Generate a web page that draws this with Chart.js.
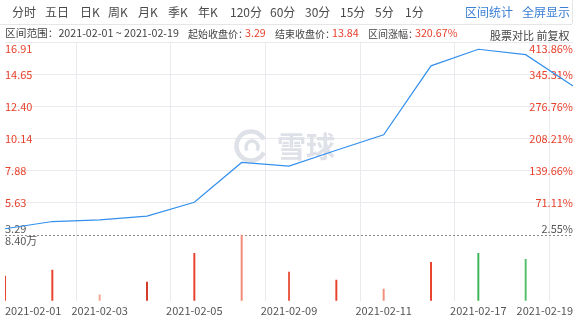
<!DOCTYPE html>
<html>
<head>
<meta charset="utf-8">
<script src="https://cdn.jsdelivr.net/npm/chart.js@4.4.1/dist/chart.umd.min.js"></script>
<style>
  html, body { margin: 0; padding: 0; background: #fff; }
  body { width: 580px; height: 320px; position: relative; overflow: hidden;
    font-family: 'Noto Sans CJK SC', 'Noto Sans', sans-serif; }
  #wrap { position: absolute; left: 0; top: 0; width: 580px; height: 320px; }
  .t { position: absolute; white-space: nowrap; line-height: 1; }
  .tab { top: 6px; font-size: 12px; color: #4a4a4a; }
  .blue { top: 6px; font-size: 12px; color: #3b7fd6; }
  .info { top: 28px; font-size: 10.7px; color: #444; }
  .lbl { font-size: 10px; top: 28.5px; }
  .red { color: #e8412c; }
  #bar { position: absolute; left: 0; top: 24px; width: 572px; height: 0; border-top: 1px solid #e6e6e6; }
  #barR { position: absolute; left: 572px; top: 0; width: 0; height: 24px; border-left: 1px solid #e6e6e6; }
</style>
</head>
<body>
<div id="wrap"><canvas id="myChart" width="580" height="320"></canvas></div>
<div id="bar"></div><div id="barR"></div>
<div id="tabs"></div>
<div class="t info" style="left:5px">区间范围：2021-02-01 ~ 2021-02-19</div>
<div class="t info lbl" style="left:188px">起始收盘价：</div>
<div class="t info red" style="left:245px">3.29</div>
<div class="t info lbl" style="left:275px">结束收盘价：</div>
<div class="t info red" style="left:332px">13.84</div>
<div class="t info lbl" style="left:368px">区间涨幅：</div>
<div class="t info red" style="left:415px">320.67%</div>
<div class="t info" style="left:490px;top:30px;font-size:11px">股票对比 前复权</div>
<script>
'use strict';

// Data
let dates = ['2021-02-01', '2021-02-02', '2021-02-03', '2021-02-04', '2021-02-05', '2021-02-08', '2021-02-09',
  '2021-02-10', '2021-02-11', '2021-02-12', '2021-02-17', '2021-02-18', '2021-02-19'];
let closes = [3.79, 4.30, 4.42, 4.68, 5.66, 8.46, 8.20, 9.32, 10.41, 15.26, 16.43, 16.05, 13.84];
let volumes = [3.13, 3.89, 0.75, 2.38, 6.02, 8.40, 3.64, 2.63, 1.50, 4.89, 6.02, 5.27, null]; // 万
let volColors = ['#e8412c', '#e8412c', '#f3a68e', '#d33a26', '#e8412c', '#f28a76', '#ea5a45',
  '#e8412c', '#f0907a', '#e8412c', '#3fb55a', '#55c06c', '#e8412c'];
let priceTicks = [3.375, 5.63, 7.88, 10.14, 12.40, 14.65, 16.905];
let priceLabels = ['3.29', '5.63', '7.88', '10.14', '12.40', '14.65', '16.91'];
let pctLabels = ['2.55%', '71.11%', '139.66%', '208.21%', '276.76%', '345.31%', '413.86%'];
let volMaxLabel = '8.40万';
let tabs = ['分时', '五日', '日K', '周K', '月K', '季K', '年K', '120分', '60分', '30分', '15分', '5分', '1分'];
let tabX = [12, 45, 80, 108, 138, 168, 198, 230, 270, 305, 340, 375, 405];

// toolbar
let tabBox = document.getElementById('tabs');
for (let i = 0; i < tabs.length; i++) {
  let d = document.createElement('div');
  d.className = 't tab';
  d.style.left = tabX[i] + 'px';
  d.textContent = tabs[i];
  tabBox.appendChild(d);
}
[['区间统计', 465], ['全屏显示', 522]].forEach(function (p) {
  let d = document.createElement('div');
  d.className = 't blue';
  d.style.left = p[1] + 'px';
  d.textContent = p[0];
  tabBox.appendChild(d);
});

const FONT = "'Noto Sans CJK SC', 'Noto Sans', sans-serif";
Chart.defaults.font.family = FONT;

// labels, dotted separator and watermark
let overlay = {
  id: 'overlay',
  beforeDatasetsDraw(chart) {
    let ctx = chart.ctx;
    let area = chart.chartArea;
    let y = chart.scales.y;
    ctx.save();
    // watermark
    ctx.strokeStyle = '#dee1e7';
    ctx.lineWidth = 4.5;
    ctx.beginPath();
    ctx.arc(251, 146, 14.5, Math.PI * 0.15, Math.PI * 1.85);
    ctx.stroke();
    ctx.lineWidth = 3.5;
    ctx.beginPath();
    ctx.arc(252, 147, 6, Math.PI * 0.8, Math.PI * 2.2);
    ctx.stroke();
    ctx.fillStyle = '#dee1e7';
    ctx.font = 'bold 29px ' + FONT;
    ctx.textBaseline = 'middle';
    ctx.textAlign = 'left';
    ctx.fillText('雪球', 277, 147);

    // dotted separator
    let sep = y.getPixelForValue(priceTicks[0]);
    ctx.strokeStyle = '#8c8c8c';
    ctx.lineWidth = 1;
    ctx.setLineDash([2, 2]);
    ctx.beginPath();
    ctx.moveTo(area.left, Math.round(sep) + 0.5);
    ctx.lineTo(area.right, Math.round(sep) + 0.5);
    ctx.stroke();
    ctx.setLineDash([]);

    // price / percent labels
    ctx.font = '11px ' + FONT;
    for (let i = 0; i < priceTicks.length; i++) {
      let py = y.getPixelForValue(priceTicks[i]);
      let base = 'middle';
      if (i === 0) { base = 'bottom'; }
      if (i === priceTicks.length - 1) { base = 'top'; py += 1; }
      ctx.textBaseline = base;
      ctx.fillStyle = i === 0 ? '#555' : '#e8412c';
      ctx.textAlign = 'left';
      ctx.fillText(priceLabels[i], area.left, py);
      ctx.textAlign = 'right';
      ctx.fillText(pctLabels[i], area.right, py);
    }
    ctx.textAlign = 'left';
    ctx.textBaseline = 'top';
    ctx.fillStyle = '#555';
    ctx.fillText(volMaxLabel, area.left, sep + 1);
    ctx.restore();
  }
};

let ctx = document.getElementById('myChart');
// eslint-disable-next-line no-undef
let myChart = new Chart(ctx, {
  data: {
    labels: dates,
    datasets: [{
      type: 'line',
      label: '收盘价',
      data: closes,
      yAxisID: 'y',
      borderColor: '#3490ec',
      borderWidth: 1.2,
      pointRadius: 0,
      tension: 0
    }, {
      type: 'bar',
      label: '成交量',
      data: volumes,
      yAxisID: 'v',
      backgroundColor: volColors,
      barThickness: 1.3
    }]
  },
  options: {
    responsive: false,
    animation: false,
    layout: { padding: { left: 5, right: 7, top: 42.5, bottom: 0 } },
    plugins: { legend: { display: false }, tooltip: { enabled: false } },
    scales: {
      x: {
        type: 'category',
        offset: false,
        grid: {
          drawTicks: false,
          color: function (c) { return (c.index % 2 === 0 && c.index > 0) ? '#e9e9ee' : 'rgba(0,0,0,0)'; }
        },
        border: { display: false },
        ticks: {
          autoSkip: false,
          maxRotation: 0,
          align: 'inner',
          padding: 3,
          color: '#555',
          font: { size: 11 },
          callback: function (v, i) { return i % 2 === 0 ? dates[i] : ''; }
        }
      },
      y: {
        type: 'linear',
        position: 'left',
        stack: 'k',
        stackWeight: 193.8,
        weight: 1,
        min: priceTicks[0],
        max: priceTicks[priceTicks.length - 1],
        afterBuildTicks: function (s) { s.ticks = priceTicks.map(function (v) { return { value: v }; }); },
        grid: {
          drawTicks: false,
          color: function (c) { return c.index === 0 ? 'rgba(0,0,0,0)' : '#e9e9ee'; }
        },
        border: { display: false },
        ticks: { display: false }
      },
      v: {
        type: 'linear',
        position: 'left',
        stack: 'k',
        stackWeight: 66.7,
        weight: 0,
        min: 0,
        max: 8.40,
        grid: { display: false, drawTicks: false },
        border: { display: false },
        ticks: { display: false }
      }
    }
  },
  plugins: [overlay]
});
</script>
</body>
</html>
